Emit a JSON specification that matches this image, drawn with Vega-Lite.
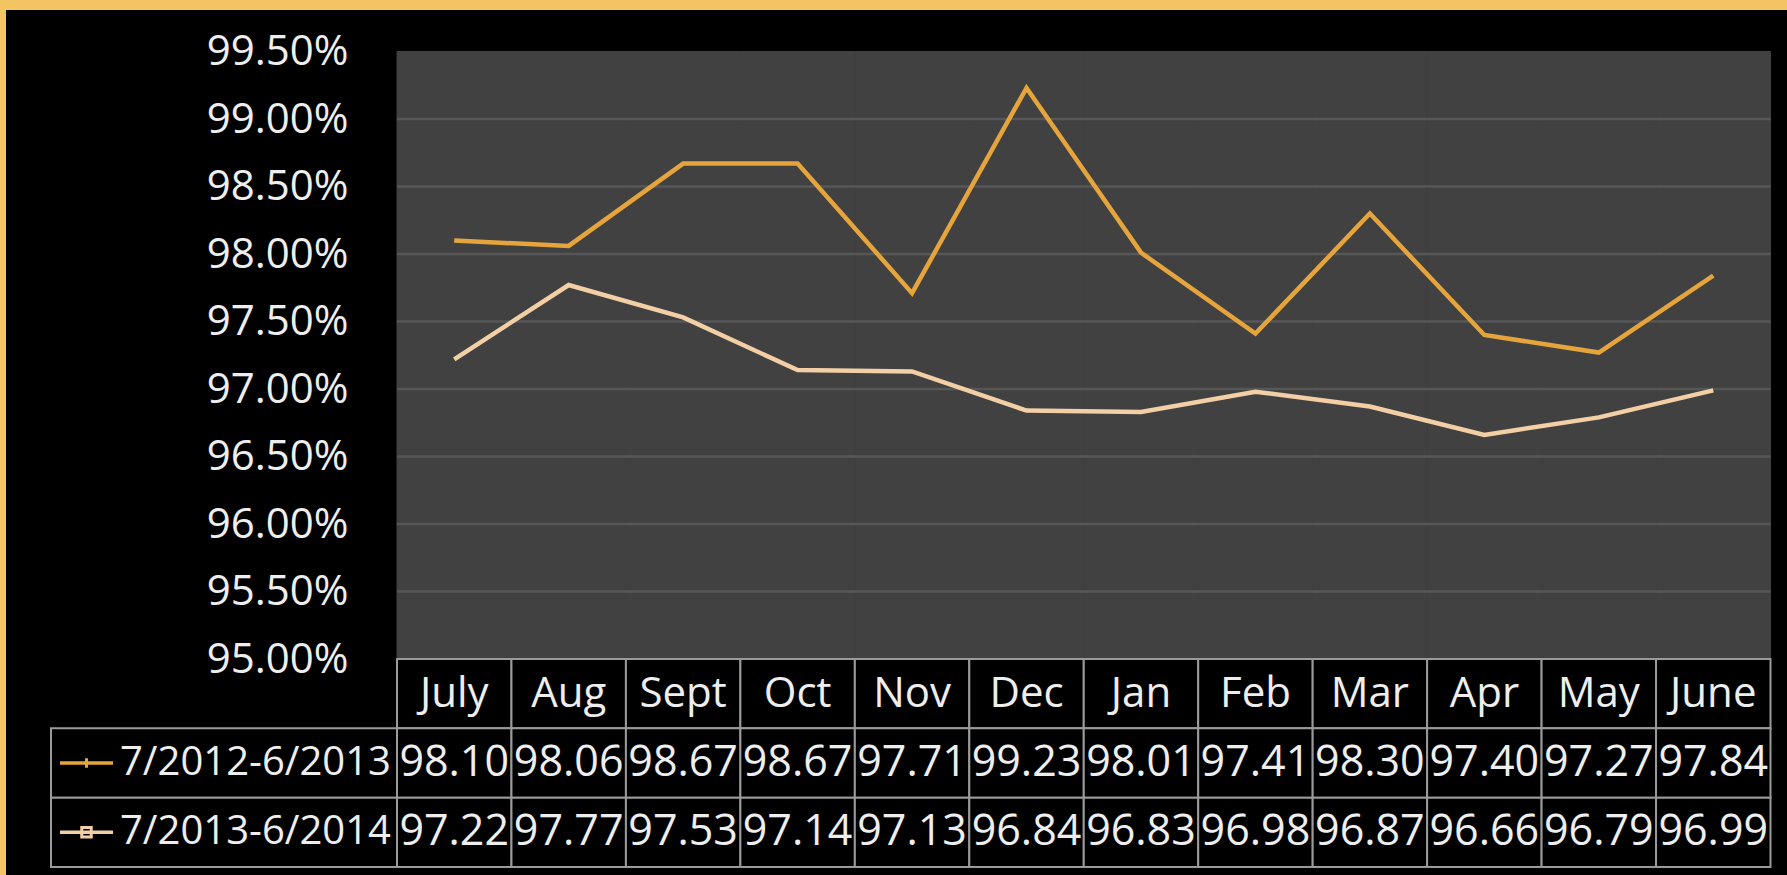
{
  "$schema": "https://vega.github.io/schema/vega-lite/v6.json",
  "width": 1787,
  "height": 875,
  "autosize": {"type": "fit", "contains": "padding"},
  "padding": {"left": 6, "top": 10, "right": 0, "bottom": 0},
  "background": "#F3C562",
  "config": {
    "view": {"fill": "#000000", "stroke": null},
    "text": {"font": "Open Sans"},
    "axis": {"labelFont": "Open Sans"}
  },
  "datasets": {
    "rates": [
      {"month": "July", "period": "7/2012-6/2013", "value": 98.10},
      {"month": "Aug", "period": "7/2012-6/2013", "value": 98.06},
      {"month": "Sept", "period": "7/2012-6/2013", "value": 98.67},
      {"month": "Oct", "period": "7/2012-6/2013", "value": 98.67},
      {"month": "Nov", "period": "7/2012-6/2013", "value": 97.71},
      {"month": "Dec", "period": "7/2012-6/2013", "value": 99.23},
      {"month": "Jan", "period": "7/2012-6/2013", "value": 98.01},
      {"month": "Feb", "period": "7/2012-6/2013", "value": 97.41},
      {"month": "Mar", "period": "7/2012-6/2013", "value": 98.30},
      {"month": "Apr", "period": "7/2012-6/2013", "value": 97.40},
      {"month": "May", "period": "7/2012-6/2013", "value": 97.27},
      {"month": "June", "period": "7/2012-6/2013", "value": 97.84},
      {"month": "July", "period": "7/2013-6/2014", "value": 97.22},
      {"month": "Aug", "period": "7/2013-6/2014", "value": 97.77},
      {"month": "Sept", "period": "7/2013-6/2014", "value": 97.53},
      {"month": "Oct", "period": "7/2013-6/2014", "value": 97.14},
      {"month": "Nov", "period": "7/2013-6/2014", "value": 97.13},
      {"month": "Dec", "period": "7/2013-6/2014", "value": 96.84},
      {"month": "Jan", "period": "7/2013-6/2014", "value": 96.83},
      {"month": "Feb", "period": "7/2013-6/2014", "value": 96.98},
      {"month": "Mar", "period": "7/2013-6/2014", "value": 96.87},
      {"month": "Apr", "period": "7/2013-6/2014", "value": 96.66},
      {"month": "May", "period": "7/2013-6/2014", "value": 96.79},
      {"month": "June", "period": "7/2013-6/2014", "value": 96.99}
    ],
    "gridlines": [
      {"level": 95.5}, {"level": 96.0}, {"level": 96.5}, {"level": 97.0},
      {"level": 97.5}, {"level": 98.0}, {"level": 98.5}, {"level": 99.0}
    ]
  },
  "layer": [
    {
      "data": {"name": "rates"},
      "layer": [
        {
          "transform": [{"filter": "datum.period === '7/2012-6/2013'"}],
          "mark": {"type": "rect", "color": "#414141", "stroke": "#414141", "strokeWidth": 1},
          "encoding": {
            "x": {"field": "month", "type": "ordinal", "axis": null,
                  "scale": {"type": "band", "domain": ["July","Aug","Sept","Oct","Nov","Dec","Jan","Feb","Mar","Apr","May","June"], "paddingInner": 0, "paddingOuter": 0, "range": [391, 1764.5]}},
            "y": {"datum": 95, "type": "quantitative",
                  "scale": {"domain": [95, 99.5], "nice": false, "zero": false, "range": [649, 41.5]},
                  "axis": {"orient": "left", "offset": -391, "title": null, "zindex": 1,
                           "values": [95, 95.5, 96, 96.5, 97, 97.5, 98, 98.5, 99, 99.5],
                           "labelExpr": "format(datum.value, '.2f') + '%'",
                           "ticks": false, "domain": false, "grid": false,
                           "labelPadding": 49, "labelFontSize": 42, "labelColor": "#EEEEEE",
                           "labelBaseline": "middle", "labelFlush": false, "labelOverlap": false, "labelBound": false}},
            "y2": {"datum": 99.5}
          }
        },
        {
          "data": {"name": "gridlines"},
          "mark": {"type": "rule", "color": "#575757", "strokeWidth": 2.5},
          "encoding": {
            "x": {"datum": "July", "type": "ordinal", "bandPosition": 0, "axis": null,
                  "scale": {"type": "band", "domain": ["July","Aug","Sept","Oct","Nov","Dec","Jan","Feb","Mar","Apr","May","June"], "paddingInner": 0, "paddingOuter": 0, "range": [391, 1764.5]}},
            "x2": {"datum": "June", "bandPosition": 1},
            "y": {"field": "level", "type": "quantitative",
                  "scale": {"domain": [95, 99.5], "nice": false, "zero": false, "range": [649, 41.5]}}
          }
        },
        {
          "mark": {"type": "line", "strokeWidth": 4.5, "strokeJoin": "miter"},
          "encoding": {
            "x": {"field": "month", "type": "ordinal", "bandPosition": 0.5, "axis": null,
                  "scale": {"type": "band", "domain": ["July","Aug","Sept","Oct","Nov","Dec","Jan","Feb","Mar","Apr","May","June"], "paddingInner": 0, "paddingOuter": 0, "range": [391, 1764.5]}},
            "y": {"field": "value", "type": "quantitative",
                  "scale": {"domain": [95, 99.5], "nice": false, "zero": false, "range": [649, 41.5]}},
            "color": {"field": "period", "type": "nominal", "legend": null,
                      "scale": {"domain": ["7/2012-6/2013", "7/2013-6/2014"], "range": ["#E6A53C", "#F3CFA6"]}}
          }
        }
      ]
    },
    {
      "data": {"name": "rates"},
      "layer": [
        {
          "layer": [
            {
              "transform": [{"filter": "datum.period === '7/2012-6/2013'"}],
              "mark": {"type": "rect", "fill": "#000000", "stroke": "#9A9A9A", "strokeWidth": 2},
              "encoding": {
                "x": {"field": "month", "type": "ordinal", "axis": null,
                      "scale": {"type": "band", "domain": ["July","Aug","Sept","Oct","Nov","Dec","Jan","Feb","Mar","Apr","May","June"], "paddingInner": 0, "paddingOuter": 0, "range": [391, 1764.5]}},
                "y": {"datum": "Month", "type": "nominal", "axis": null,
                      "scale": {"type": "band", "domain": ["Month", "7/2012-6/2013", "7/2013-6/2014"], "paddingInner": 0, "paddingOuter": 0, "range": [649, 857]}}
              }
            },
            {
              "transform": [{"filter": "datum.period === '7/2012-6/2013'"}],
              "mark": {"type": "text", "fontSize": 42, "color": "#EEEEEE", "baseline": "middle", "align": "center"},
              "encoding": {
                "x": {"field": "month", "type": "ordinal", "bandPosition": 0.5, "axis": null,
                      "scale": {"type": "band", "domain": ["July","Aug","Sept","Oct","Nov","Dec","Jan","Feb","Mar","Apr","May","June"], "paddingInner": 0, "paddingOuter": 0, "range": [391, 1764.5]}},
                "y": {"datum": "Month", "type": "nominal", "bandPosition": 0.5, "axis": null,
                      "scale": {"type": "band", "domain": ["Month", "7/2012-6/2013", "7/2013-6/2014"], "paddingInner": 0, "paddingOuter": 0, "range": [649, 857]}},
                "text": {"field": "month", "type": "nominal"}
              }
            },
            {
              "mark": {"type": "rect", "fill": "#000000", "stroke": "#9A9A9A", "strokeWidth": 2},
              "encoding": {
                "x": {"field": "month", "type": "ordinal", "axis": null,
                      "scale": {"type": "band", "domain": ["July","Aug","Sept","Oct","Nov","Dec","Jan","Feb","Mar","Apr","May","June"], "paddingInner": 0, "paddingOuter": 0, "range": [391, 1764.5]}},
                "y": {"field": "period", "type": "nominal", "axis": null,
                      "scale": {"type": "band", "domain": ["Month", "7/2012-6/2013", "7/2013-6/2014"], "paddingInner": 0, "paddingOuter": 0, "range": [649, 857]}}
              }
            },
            {
              "mark": {"type": "text", "fontSize": 43, "color": "#EEEEEE", "baseline": "middle", "align": "center"},
              "encoding": {
                "x": {"field": "month", "type": "ordinal", "bandPosition": 0.5, "axis": null,
                      "scale": {"type": "band", "domain": ["July","Aug","Sept","Oct","Nov","Dec","Jan","Feb","Mar","Apr","May","June"], "paddingInner": 0, "paddingOuter": 0, "range": [391, 1764.5]}},
                "y": {"field": "period", "type": "nominal", "bandPosition": 0.5, "axis": null,
                      "scale": {"type": "band", "domain": ["Month", "7/2012-6/2013", "7/2013-6/2014"], "paddingInner": 0, "paddingOuter": 0, "range": [649, 857]}},
                "text": {"field": "value", "type": "quantitative", "format": ".2f"}
              }
            }
          ]
        },
        {
          "transform": [{"filter": "datum.month === 'July'"}],
          "layer": [
            {
              "mark": {"type": "rect", "fill": "#000000", "stroke": "#9A9A9A", "strokeWidth": 2},
              "encoding": {
                "x": {"datum": "Period", "type": "nominal", "axis": null,
                      "scale": {"type": "band", "domain": ["Period"], "paddingInner": 0, "paddingOuter": 0, "range": [45, 391]}},
                "y": {"field": "period", "type": "nominal", "axis": null,
                      "scale": {"type": "band", "domain": ["Month", "7/2012-6/2013", "7/2013-6/2014"], "paddingInner": 0, "paddingOuter": 0, "range": [649, 857]}}
              }
            },
            {
              "mark": {"type": "text", "fontSize": 40, "color": "#EEEEEE", "baseline": "middle", "align": "left"},
              "encoding": {
                "x": {"datum": "Period", "type": "nominal", "bandPosition": 0.1994, "axis": null,
                      "scale": {"type": "band", "domain": ["Period"], "paddingInner": 0, "paddingOuter": 0, "range": [45, 391]}},
                "y": {"field": "period", "type": "nominal", "bandPosition": 0.5, "axis": null,
                      "scale": {"type": "band", "domain": ["Month", "7/2012-6/2013", "7/2013-6/2014"], "paddingInner": 0, "paddingOuter": 0, "range": [649, 857]}},
                "text": {"field": "period", "type": "nominal"}
              }
            },
            {
              "mark": {"type": "point", "shape": "M-1,0L1,0", "size": 2809, "filled": false, "strokeWidth": 3.5, "opacity": 1},
              "encoding": {
                "x": {"datum": "Period", "type": "nominal", "bandPosition": 0.1026, "axis": null,
                      "scale": {"type": "band", "domain": ["Period"], "paddingInner": 0, "paddingOuter": 0, "range": [45, 391]}},
                "y": {"field": "period", "type": "nominal", "bandPosition": 0.5, "axis": null,
                      "scale": {"type": "band", "domain": ["Month", "7/2012-6/2013", "7/2013-6/2014"], "paddingInner": 0, "paddingOuter": 0, "range": [649, 857]}},
                "color": {"field": "period", "type": "nominal", "legend": null,
                          "scale": {"domain": ["7/2012-6/2013", "7/2013-6/2014"], "range": ["#E6A53C", "#F3CFA6"]}}
              }
            },
            {
              "mark": {"type": "point", "size": 90, "filled": false, "strokeWidth": 3, "opacity": 1},
              "encoding": {
                "x": {"datum": "Period", "type": "nominal", "bandPosition": 0.1026, "axis": null,
                      "scale": {"type": "band", "domain": ["Period"], "paddingInner": 0, "paddingOuter": 0, "range": [45, 391]}},
                "y": {"field": "period", "type": "nominal", "bandPosition": 0.5, "axis": null,
                      "scale": {"type": "band", "domain": ["Month", "7/2012-6/2013", "7/2013-6/2014"], "paddingInner": 0, "paddingOuter": 0, "range": [649, 857]}},
                "shape": {"field": "period", "type": "nominal", "legend": null,
                          "scale": {"domain": ["7/2012-6/2013", "7/2013-6/2014"], "range": ["M0,-1L0,1", "square"]}},
                "color": {"field": "period", "type": "nominal", "legend": null,
                          "scale": {"domain": ["7/2012-6/2013", "7/2013-6/2014"], "range": ["#E6A53C", "#F3CFA6"]}}
              }
            }
          ]
        }
      ],
      "resolve": {"scale": {"x": "independent"}}
    }
  ],
  "resolve": {"scale": {"x": "independent", "y": "independent"}}
}
